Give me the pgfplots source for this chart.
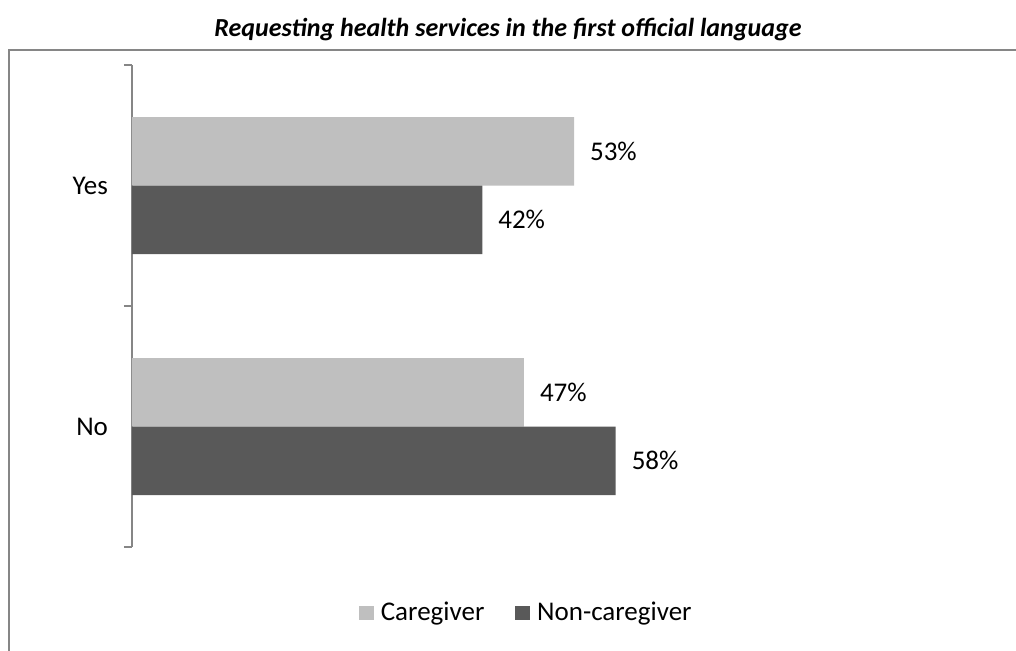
\documentclass[border=0pt]{standalone}
\usepackage{pgfplots}
\pgfplotsset{compat=1.18}
\usepackage{fontspec}
\setmainfont{Carlito}
\definecolor{lightbar}{HTML}{BFBFBF}
\definecolor{darkbar}{HTML}{595959}
\definecolor{axisgray}{HTML}{868686}
\begin{document}
\begin{tikzpicture}
  % picture is 1016 x 650 px, 1 px = 0.5pt
  \useasboundingbox (0pt,0pt) rectangle (508pt,325pt);
  % chart frame (right and bottom edges fall outside the picture)
  \draw[axisgray, line width=1pt] (4.5pt,-3pt) -- (4.5pt,300pt) -- (512pt,300pt);
  \node[font=\fontsize{13}{16}\selectfont\bfseries\itshape] at (254pt,310pt)
    {Requesting health services in the first official language};
  \begin{axis}[
    at={(66pt,51.5pt)}, anchor=south west,
    scale only axis,
    width=417pt, height=241pt,
    xmin=0, xmax=100,
    ymin=-0.5, ymax=1.5,
    hide x axis,
    axis y line*=left,
    axis line style={axisgray, line width=0.8pt},
    ytick={0,1},
    yticklabels={No,Yes},
    major tick length=0pt,
    extra y ticks={-0.5,0.5,1.5},
    extra y tick labels={},
    extra y tick style={major tick length=4pt, tick align=outside,
      tick style={axisgray, line width=0.8pt}},
    yticklabel style={font=\fontsize{13.5}{16}\selectfont, xshift=-8.5pt},
    /pgf/number format/assume math mode=true,
    xbar,
    bar width=34.25pt,
    nodes near coords={\pgfmathprintnumber{\pgfplotspointmeta}\%},
    nodes near coords style={font=\fontsize{13.5}{16}\selectfont, anchor=west, xshift=4.5pt},
    legend style={at={(0.474,-0.137)}, anchor=center, draw=none,
      font=\fontsize{13.5}{16}\selectfont, legend columns=2,
      /tikz/every odd column/.append style={column sep=1.5pt},
      /tikz/every even column/.append style={column sep=13.5pt}},
    legend image code/.code={\fill[#1] (0pt,-3.7pt) rectangle (7.4pt,3.7pt);},
  ]
  \addplot[fill=lightbar, draw=none, bar shift=17.125pt] coordinates {(53,1) (47,0)};
  \addlegendentry{Caregiver}
  \addplot[fill=darkbar, draw=none, bar shift=-17.125pt] coordinates {(42,1) (58,0)};
  \addlegendentry{Non-caregiver}
  \end{axis}
\end{tikzpicture}
\end{document}
